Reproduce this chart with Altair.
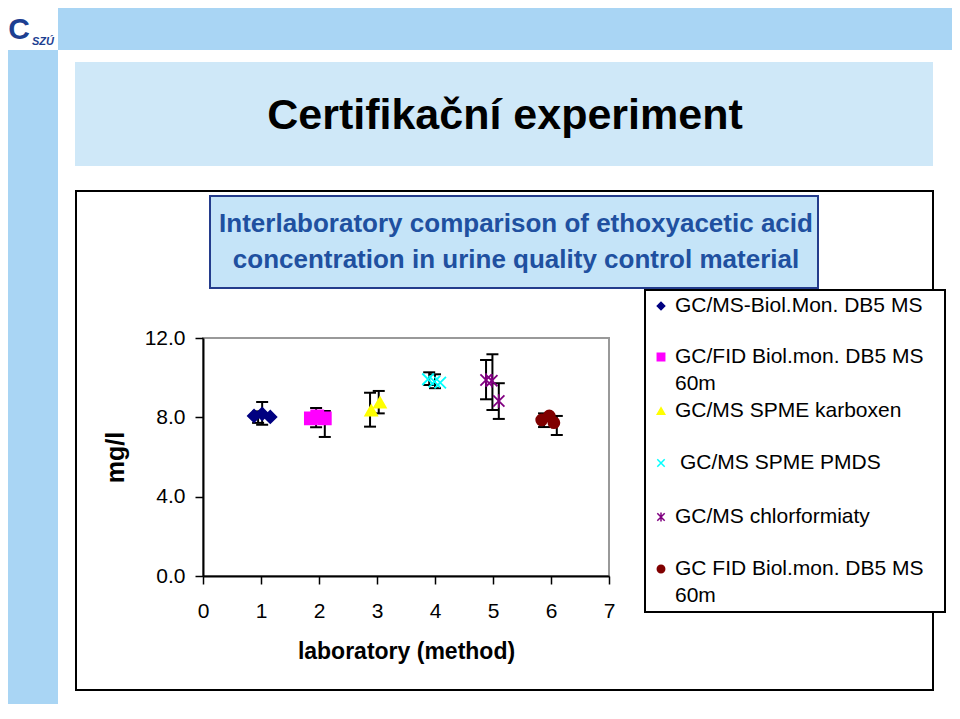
import altair as alt
import pandas as pd

FONT = "Liberation Sans"

# ---------------- data ----------------
methods = [
    "GC/MS-Biol.Mon. DB5 MS",
    "GC/FID Biol.mon. DB5 MS 60m",
    "GC/MS SPME karboxen",
    "GC/MS SPME PMDS",
    "GC/MS chlorformiaty",
    "GC FID Biol.mon. DB5 MS 60m",
]
legend_lines = [
    ["GC/MS-Biol.Mon. DB5 MS"],
    ["GC/FID Biol.mon. DB5 MS", "60m"],
    ["GC/MS SPME karboxen"],
    ["GC/MS SPME PMDS"],
    ["GC/MS chlorformiaty"],
    ["GC FID Biol.mon. DB5 MS", "60m"],
]
method_colors = ["#000080", "#FF00FF", "#FFFF00", "#00FFFF", "#800080", "#800000"]
X_PATH = "M-1,-1L1,1M-1,1L1,-1"
AST_PATH = "M-1,-1L1,1M-1,1L1,-1M0,-1.2L0,1.2"
method_shapes = ["diamond", "square", "triangle-up", X_PATH, AST_PATH, "circle"]
method_sizes = [150, 120, 190, 70, 75, 95]

point_method = [0, 0, 0, 1, 1, 1, 2, 2, 3, 3, 3, 4, 4, 4, 5, 5, 5]
point_lab = [0.88, 1.02, 1.16, 1.86, 1.97, 2.10, 2.90, 3.05, 3.88, 3.99, 4.09,
             4.88, 4.98, 5.10, 5.84, 5.97, 6.05]
point_value = [8.07, 8.17, 8.02, 7.95, 8.05, 7.95, 8.35, 8.75, 9.92, 9.80, 9.75,
               9.88, 9.85, 8.82, 7.87, 8.07, 7.73]

err_lab = [0.95, 1.02, 1.95, 2.10, 2.88, 3.03, 3.90, 4.00, 4.88, 4.99, 5.10, 5.88, 6.10]
err_low = [7.72, 7.62, 7.50, 7.01, 7.53, 8.20, 9.63, 9.47, 8.91, 8.37, 7.92, 7.51, 7.11]
err_high = [8.30, 8.77, 8.47, 8.32, 9.24, 9.33, 10.27, 10.17, 10.89, 11.18, 9.72, 8.20, 8.07]

x_ticks = [0, 1, 2, 3, 4, 5, 6, 7]
y_ticks = [0, 4, 8, 12]

pts = pd.DataFrame({
    "method": [methods[i] for i in point_method],
    "lab": point_lab,
    "value": point_value,
})
ebars = pd.DataFrame({"lab": err_lab, "lo": err_low, "hi": err_high})

# ---------------- layout (page pixels) ----------------
OX, OY = 203, 338          # page position of plot origin
PW, PH = 406, 238          # plot area size
PAD_L, PAD_T = OX - 8, OY - 8
TOTAL_W, TOTAL_H = 944, 696

ONE = pd.DataFrame({"k": [0]})


def box(x1, y1, x2, y2, fill="white", stroke=None, sw=0, fill_opacity=1):
    kw = dict(fill=fill, fillOpacity=fill_opacity)
    if stroke:
        kw.update(stroke=stroke, strokeWidth=sw)
    return alt.Chart(ONE).mark_rect(**kw).encode(
        x=alt.value(x1 - OX), x2=alt.value(x2 - OX),
        y=alt.value(y1 - OY), y2=alt.value(y2 - OY))


def label(txt, px, py, size, weight="normal", color="black", align="left",
          baseline="middle", style="normal"):
    return alt.Chart(ONE).mark_text(
        text=txt, fontSize=size, fontWeight=weight, color=color, align=align,
        baseline=baseline, font=FONT, fontStyle=style).encode(
        x=alt.value(px - OX), y=alt.value(py - OY))


shape_scale = alt.Scale(domain=methods, range=method_shapes)
color_scale = alt.Scale(domain=methods, range=method_colors)
size_scale = alt.Scale(domain=methods, range=method_sizes)

x_axis = alt.Axis(values=x_ticks, format="d", labelFontSize=21, labelColor="black",
                  labelPadding=16, tickSize=8, tickColor="black", tickWidth=1.5,
                  domainColor="black", domainWidth=2, grid=False,
                  titleFontSize=23, titleFontWeight="bold", titleColor="black",
                  titlePadding=19, labelFlush=False, labelFont=FONT, titleFont=FONT)
y_axis = alt.Axis(values=y_ticks, format=".1f", labelFontSize=21, labelColor="black",
                  labelPadding=10, tickSize=8, tickColor="black", tickWidth=1.5,
                  domainColor="black", domainWidth=2, grid=False,
                  titleFontSize=25, titleFontWeight="bold", titleColor="black",
                  titlePadding=16, labelFlush=False, labelFont=FONT, titleFont=FONT)
xs = alt.Scale(domain=[0, 7], nice=False, zero=False)
ys = alt.Scale(domain=[0, 12], nice=False, zero=False)
XT = "laboratory (method)"
YT = "mg/l"

# ---------------- decoration ----------------
deco = [
    box(0, 50, 58, 719, fill="#a9d5f4"),          # left strip
    box(58, 0, 960, 50, fill="#a9d5f4"),          # top strip
    box(0, 0, 58, 50, fill="white"),              # logo area
    label("C", 19, 30, 30, weight="bold", color="#1d3f91", align="center"),
    label("SZÚ", 32, 42, 11, weight="bold", color="#1d3f91", align="left", style="italic"),
    box(75, 62, 933, 166, fill="#cfe8f8"),        # slide title box
    label("Certifikační experiment", 505, 116, 43, weight="bold", align="center"),
    box(76, 191, 933, 690, fill="white", stroke="black", sw=2, fill_opacity=0),
    box(210, 196, 818, 288, fill="#c5e4f8", stroke="#243c8c", sw=2),
    label("Interlaboratory comparison of ethoxyacetic acid", 516, 224, 26,
          weight="bold", color="#2050a0", align="center"),
    label("concentration in urine quality control material", 516, 260, 26,
          weight="bold", color="#2050a0", align="center"),
    box(645, 290, 945, 612, fill="white", stroke="black", sw=2),
]

# ---------------- data layers ----------------
stems = alt.Chart(ebars).mark_rule(color="black", strokeWidth=2).encode(
    x=alt.X("lab:Q", scale=xs, axis=x_axis, title=XT),
    y=alt.Y("lo:Q", scale=ys, axis=y_axis, title=YT),
    y2="hi:Q")
caps_lo = alt.Chart(ebars).mark_tick(color="black", orient="horizontal", size=12,
                                     thickness=2, opacity=1).encode(
    x=alt.X("lab:Q", scale=xs, axis=x_axis, title=XT),
    y=alt.Y("lo:Q", scale=ys, axis=y_axis, title=YT))
caps_hi = alt.Chart(ebars).mark_tick(color="black", orient="horizontal", size=12,
                                     thickness=2, opacity=1).encode(
    x=alt.X("lab:Q", scale=xs, axis=x_axis, title=XT),
    y=alt.Y("hi:Q", scale=ys, axis=y_axis, title=YT))
points = alt.Chart(pts).mark_point(filled=True, opacity=1, strokeWidth=1.8).encode(
    x=alt.X("lab:Q", scale=xs, axis=x_axis, title=XT),
    y=alt.Y("value:Q", scale=ys, axis=y_axis, title=YT),
    shape=alt.Shape("method:N", scale=shape_scale, legend=None),
    fill=alt.Fill("method:N", scale=color_scale, legend=None),
    stroke=alt.Stroke("method:N", scale=color_scale, legend=None),
    size=alt.Size("method:N", scale=size_scale, legend=None))

# ---------------- manual legend ----------------
legend_y = [306, 357, 411, 463, 517, 569]
legend_layers = []
for i, m in enumerate(methods):
    d = pd.DataFrame({"method": [m]})
    legend_layers.append(
        alt.Chart(d).mark_point(filled=True, opacity=1, size=55, strokeWidth=1.5).encode(
            x=alt.value(661 - OX), y=alt.value(legend_y[i] - OY),
            shape=alt.Shape("method:N", scale=shape_scale, legend=None),
            fill=alt.Fill("method:N", scale=color_scale, legend=None),
            stroke=alt.Stroke("method:N", scale=color_scale, legend=None)))
    tx = 680 if i == 3 else 675
    for j, line in enumerate(legend_lines[i]):
        legend_layers.append(label(line, tx, legend_y[i] + j * 26.5, 21))

chart = alt.layer(*deco, stems, caps_lo, caps_hi, points, *legend_layers).properties(
    width=PW, height=PH,
    autosize=alt.AutoSizeParams(type="none"),
    padding={"left": PAD_L, "top": PAD_T, "right": TOTAL_W - PAD_L - PW,
             "bottom": TOTAL_H - PAD_T - PH},
    background="white",
).configure_view(stroke="#999999", strokeWidth=2).configure_text(font=FONT)

chart.save("out.html", embed_options={"renderer": "svg", "actions": False})
